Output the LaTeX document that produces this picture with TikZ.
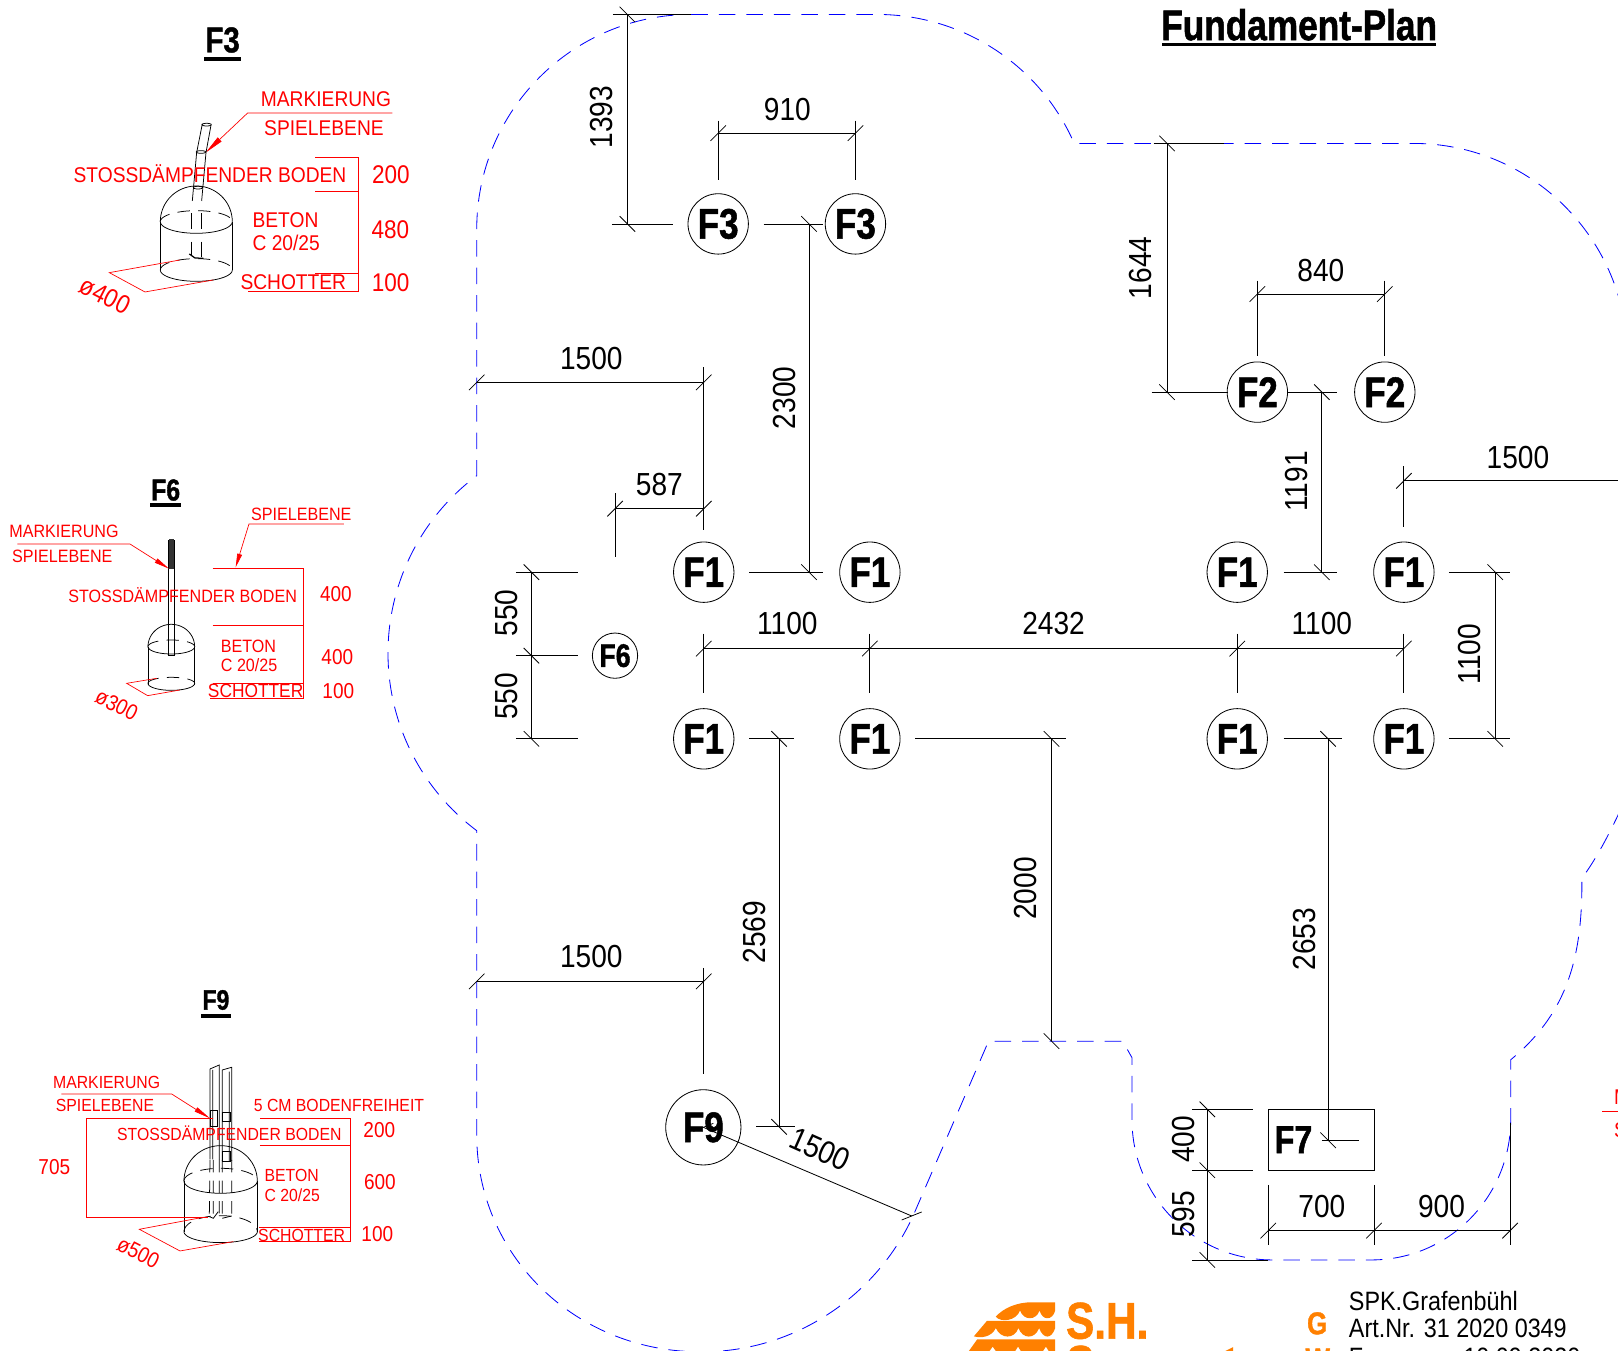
\documentclass[tikz,border=0pt]{standalone}
\usepackage{fontspec}
\usetikzlibrary{arrows.meta}
\setmainfont[FakeStretch=0.9]{Liberation Sans}
\newfontfamily\numf[FakeStretch=0.88]{Liberation Sans}
\newfontfamily\boldf[FakeStretch=0.82,FakeBold=1.2]{Liberation Sans}
\definecolor{shorange}{HTML}{FF8000}
\newcommand\rfs[1]{\fontsize{#1}{#1}\selectfont}
\tikzset{
  dimln/.style={black,line width=.6pt},
  ticks/.style={black,line width=.55pt},
  boundary/.style={blue,line width=.6pt,dash pattern=on 12pt off 8pt},
  fnode/.style={draw=black,circle,line width=.6pt,inner sep=0pt,minimum size=43.9pt,font={\boldf\bfseries\rfs{31}}},
  dimtxt/.style={inner sep=0pt,font={\numf\rfs{23.2}}},
  dimrot/.style={dimtxt,rotate=90},
  rl/.style={red,line width=.5pt},
  rtxt/.style={red,inner sep=0pt},
  rnum/.style={red,inner sep=0pt},
  obj/.style={black,line width=.55pt},
  objd/.style={black,line width=.55pt,dash pattern=on 9pt off 6pt},
  ttl/.style={inner sep=0pt,font={\boldf\bfseries\rfs{26}}}
}
\newcommand\tkv[1]{\draw[ticks] (#1) ++(-7.5,-7.5) -- ++(15,15);}
\newcommand\tkh[1]{\draw[ticks] (#1) ++(-7.5,7.5) -- ++(15,-15);}
\newcommand\earc[7][]{\draw[obj,#1] plot[domain=#6:#7,samples=36,smooth] ({#2+#4*cos(\x)},{#3+#5*sin(\x)});}
\begin{document}
\begin{tikzpicture}[x=.75pt,y=-.75pt]
\useasboundingbox (0,0) rectangle (1568,1309);
\clip (0,0) rectangle (1568,1309);
% title
\node[inner sep=0pt,font={\boldf\bfseries\rfs{31.2}}] (title) at (1259,24) {Fundament-Plan};
\fill (1126,42) rectangle (1392,45);
% boundary
\draw[boundary] (670,14) -- (850,14) .. controls (932.8,14) and (1008,63) .. (1041,139)
 -- (1370,139) .. controls (1484,139) and (1577,232) .. (1577,346) -- (1600,700) -- (1568,790)
 .. controls (1556,815) and (1545,835) .. (1533,851) -- (1533,857)
 .. controls (1533,935) and (1515,985) .. (1464,1027) -- (1464,1085)
 .. controls (1464,1160) and (1404,1221) .. (1329,1221) -- (1233,1221)
 .. controls (1158,1221) and (1097,1160) .. (1097,1085) -- (1097,1025) -- (1088,1009) -- (958,1009)
 -- (885,1178) .. controls (850,1255) and (770,1312) .. (675,1310)
 .. controls (555,1308) and (462,1215) .. (462,1100) -- (462,805)
 .. controls (407.8,764.3) and (376,700.8) .. (376,633)
 .. controls (376,565.2) and (407.8,501.7) .. (462,461) -- (462,222)
 .. controls (462,107) and (555,14) .. (670,14);
% foundation nodes
\node[fnode] (f3a) at (696,217) {F3};
\node[fnode] (f3b) at (829,217) {F3};
\node[fnode] (f2a) at (1218.5,380) {F2};
\node[fnode] (f2b) at (1342,380) {F2};
\node[fnode] (f1a) at (682,554.5) {F1};
\node[fnode] (f1b) at (843,554.5) {F1};
\node[fnode] (f1c) at (1199,554.5) {F1};
\node[fnode] (f1d) at (1360.5,554.5) {F1};
\node[fnode] (f1e) at (682,716) {F1};
\node[fnode] (f1f) at (843,716) {F1};
\node[fnode] (f1g) at (1199,716) {F1};
\node[fnode] (f1h) at (1360.5,716) {F1};
\node[fnode,minimum size=32.9pt,font={\boldf\bfseries\rfs{23.7}}] (f6) at (596,635.4) {F6};
\node[fnode,minimum size=54.7pt,font={\boldf\bfseries\rfs{31}}] (f9) at (681.6,1092.5) {F9};
\node[draw=black,line width=.6pt,minimum width=76.9pt,minimum height=44.2pt,inner sep=0pt] (f7box) at (1280.2,1104.5) {};
\node[inner sep=0pt,font={\boldf\bfseries\rfs{28.5}}] (f7) at (1253.5,1104.5) {F7};
% dimensions
\draw[dimln] (594,14) -- (670,14) (608,14) -- (608,217) (593,217) -- (652,217);
\tkv{608,14}\tkv{608,217}
\node[dimrot] (d1393) at (583,113.5) {1393};
\draw[dimln] (696,117) -- (696,174) (829,117) -- (829,174) (696,129) -- (829,129);
\tkh{696,129}\tkh{829,129}
\node[dimtxt] (d910) at (763,106) {910};
\draw[dimln] (1218.5,272) -- (1218.5,345) (1342,272) -- (1342,345) (1218.5,285) -- (1342,285);
\tkh{1218.5,285}\tkh{1342,285}
\node[dimtxt] (d840) at (1280,262) {840};
\draw[dimln] (740,217) -- (798,217) (784,217) -- (784,554.5) (726,554.5) -- (798,554.5);
\tkv{784,217}\tkv{784,554.5}
\node[dimrot] (d2300) at (760,385.5) {2300};
\draw[dimln] (462,370.5) -- (682,370.5) (682,356) -- (682,514);
\tkh{462,370.5}\tkh{682,370.5}
\node[dimtxt] (d1500a) at (573,347.5) {1500};
\draw[dimln] (596,478) -- (596,540) (596,493) -- (682,493);
\tkh{596,493}\tkh{682,493}
\node[dimtxt] (d587) at (639,470) {587};
\draw[dimln] (500,554.5) -- (560,554.5) (500,635.4) -- (560,635.4) (500,716) -- (560,716) (515,554.5) -- (515,716);
\tkv{515,554.5}\tkv{515,635.4}\tkv{515,716}
\node[dimrot] (d550a) at (491,594) {550};
\node[dimrot] (d550b) at (491,675) {550};
\draw[dimln] (682,614) -- (682,672) (843,614) -- (843,672) (1199,614) -- (1199,672) (1360.5,614) -- (1360.5,672) (682,628.5) -- (1360.5,628.5);
\tkh{682,628.5}\tkh{843,628.5}\tkh{1199,628.5}\tkh{1360.5,628.5}
\node[dimtxt] (d1100a) at (763,604) {1100};
\node[dimtxt] (d2432) at (1021,604) {2432};
\node[dimtxt] (d1100b) at (1281,604) {1100};
\draw[dimln] (1404,554.5) -- (1463,554.5) (1404,716) -- (1463,716) (1449,554.5) -- (1449,716);
\tkv{1449,554.5}\tkv{1449,716}
\node[dimrot] (d1100c) at (1424,634) {1100};
\draw[dimln] (1360.5,452) -- (1360.5,511) (1360.5,466) -- (1568,466);
\tkh{1360.5,466}
\node[dimtxt] (d1500b) at (1471,443.5) {1500};
\draw[dimln] (1248,380) -- (1296,380) (1281,380) -- (1281,554.5) (1244,554.5) -- (1296,554.5);
\tkv{1281,380}\tkv{1281,554.5}
\node[dimrot] (d1191) at (1256,466.5) {1191};
\draw[dimln] (1118,139) -- (1186,139) (1131,139) -- (1131,380) (1116,380) -- (1190,380);
\tkv{1131,139}\tkv{1131,380}
\node[dimrot] (d1644) at (1105,259.5) {1644};
\draw[dimln] (887,716) -- (1033,716) (1019,716) -- (1019,1009);
\tkv{1019,716}\tkv{1019,1009}
\node[dimrot] (d2000) at (994,861) {2000};
\draw[dimln] (726,716) -- (769,716) (755,716) -- (755,1092) (733,1092) -- (770,1092);
\tkv{755,716}\tkv{755,1092}
\node[dimrot] (d2569) at (731,903.5) {2569};
\draw[dimln] (1244,716) -- (1301,716) (1287,716) -- (1287,1105) (1281,1105) -- (1317,1105);
\tkv{1287,716}\tkv{1287,1105}
\node[dimrot] (d2653) at (1264,910) {2653};
\draw[dimln] (462,951) -- (682,951) (682,938) -- (682,1041);
\tkh{462,951}\tkh{682,951}
\node[dimtxt] (d1500c) at (573,926.5) {1500};
\draw[dimln] (f9.center) -- (883.5,1178.4);
\draw[ticks] (883.5,1178.4) ++(-9.7,3.9) -- ++(19.4,-7.8);
\draw[ticks] (f9.center) ++(-9.7,3.9) -- ++(19.4,-7.8);
\node[dimtxt,rotate=-24] (d1500d) at (794.7,1113.8) {1500};
\draw[dimln] (1155.6,1075) -- (1213.8,1075) (1155.6,1134) -- (1213.8,1134) (1155.6,1221) -- (1229,1221) (1170,1075) -- (1170,1221);
\tkv{1170,1075}\tkv{1170,1134}\tkv{1170,1221}
\node[dimrot] (d400) at (1147,1104) {400};
\node[dimrot] (d595) at (1147,1177) {595};
\draw[dimln] (1229,1148.3) -- (1229,1206.6) (1331.5,1148.3) -- (1331.5,1206.6) (1463.4,1088) -- (1463.4,1206.6) (1229,1192.6) -- (1463.4,1192.6);
\tkh{1229,1192.6}\tkh{1331.5,1192.6}\tkh{1463.4,1192.6}
\node[dimtxt] (d700) at (1281,1169) {700};
\node[dimtxt] (d900) at (1397,1169) {900};
% ---------- F3 detail (zoom coordinates)
\begin{scope}[scale=.323]
\node[ttl] (tf3) at (668,120) {F3};
\fill (612,171) rectangle (723,183);
\node[rtxt,font=\rfs{15.5}] (a1) at (978,298) {MARKIERUNG};
\node[rtxt,font=\rfs{15.5}] (a2) at (972,385) {SPIELEBENE};
\draw[rl,-{Stealth[length=14pt,width=4pt,inset=0pt]}] (1177,339) -- (743,339) -- (617,458);
% object
\draw[obj] (607,372) -- (590,458) -- (577,603) (633,376) -- (618,458) -- (605,603);
\earc{620}{374}{14}{4}{0}{360}
\earc{603}{456}{14}{4}{0}{360}
\earc{594}{563}{14}{4}{0}{360}
\earc{589}{665}{108}{107}{180}{360}
\earc{589}{665}{108}{35}{0}{180}
\earc[objd]{589}{665}{108}{33}{180}{360}
\draw[obj] (481,665) -- (481,810) (697,665) -- (697,810);
\earc{589}{810}{108}{34}{0}{180}
\earc[objd]{589}{810}{108}{34}{180}{360}
\draw[obj] (575,640) -- (575,686) (603,640) -- (603,686) (575,725) -- (575,765) (603,725) -- (603,770);
\draw[obj,line width=.9pt] (568,762) -- (585,774) -- (610,775);
\node[rtxt,font=\rfs{15.5}] (a3) at (630,521) {STOSSDÄMPFENDER BODEN};
\draw[rl] (946,471) -- (1076,471) -- (1076,875) -- (745,875) (946,575) -- (1076,575) (946,821) -- (1076,821);
\node[rtxt,font=\rfs{15.5},anchor=west] (a4) at (757,660) {BETON};
\node[rtxt,font=\rfs{15.5},anchor=west] (a5) at (757,728) {C 20/25};
\node[rtxt,font=\rfs{15.5}] (a6) at (880,848) {SCHOTTER};
\node[rnum,font={\numf\rfs{18.6}}] (a7) at (1173,525) {200};
\node[rnum,font={\numf\rfs{18.6}}] (a8) at (1171,688) {480};
\node[rnum,font={\numf\rfs{18.6}}] (a9) at (1172,849) {100};
\node[rnum,font={\numf\rfs{19}},rotate=-27] (a10) at (316,887) {ø400};
\draw[rl] (540,780) -- (328,818) -- (435,876) -- (640,840);
\end{scope}
% ---------- F6 detail
\begin{scope}[shift={(0,445.8)},scale=.323]
\node[ttl,font={\boldf\bfseries\rfs{22}}] (tf6) at (497,90) {F6};
\fill (451,128) rectangle (543,140);
\node[rtxt,font=\rfs{13}] (b1) at (192,214) {MARKIERUNG};
\node[rtxt,font=\rfs{13}] (b2) at (187,288) {SPIELEBENE};
\node[rtxt,font=\rfs{13}] (b3) at (904,164) {SPIELEBENE};
\draw[obj] (506,240) rectangle (523,585);
\fill[black!80] (506,237) rectangle (523,326);
\draw[rl,-{Stealth[length=11pt,width=3.5pt,inset=0pt]}] (52,252) -- (390,252) -- (507,326);
\draw[rl,-{Stealth[length=10pt,width=3.5pt,inset=0pt]}] (1032,192) -- (747,192) -- (707,322);
\earc{514}{560}{70}{67}{180}{360}
\earc{514}{560}{70}{22}{0}{180}
\earc[objd]{514}{560}{70}{20}{180}{360}
\draw[obj] (445,560) -- (445,675) (583,560) -- (583,675);
\earc{514}{670}{70}{21}{0}{180}
\earc[objd]{514}{670}{70}{18}{180}{360}
\node[rtxt,font=\rfs{13}] (b4) at (548,404) {STOSSDÄMPFENDER BODEN};
\draw[rl] (638,326) -- (911,326) -- (911,714) -- (630,714) (638,497) -- (911,497) (638,670) -- (911,670);
\node[rtxt,font=\rfs{13},anchor=west] (b5) at (662,558) {BETON};
\node[rtxt,font=\rfs{13},anchor=west] (b6) at (662,615) {C 20/25};
\node[rtxt,font=\rfs{14}] (b7) at (767,694) {SCHOTTER};
\node[rnum,font={\numf\rfs{15.7}}] (b8) at (1008,403) {400};
\node[rnum,font={\numf\rfs{15.7}}] (b9) at (1012,592) {400};
\node[rnum,font={\numf\rfs{15.7}}] (b10) at (1015,692) {100};
\node[rnum,font={\numf\rfs{16}},rotate=-27] (b11) at (350,735) {ø300};
\draw[rl] (470,655) -- (380,670) -- (443,707) -- (540,690);
\end{scope}
% ---------- F9 detail
\begin{scope}[shift={(0,940)},scale=.323]
\node[ttl,font={\boldf\bfseries\rfs{20.3}}] (tf9) at (648,90) {F9};
\fill (603,132) rectangle (693,144);
\node[rtxt,font=\rfs{12.75}] (c1) at (320,336) {MARKIERUNG};
\node[rtxt,font=\rfs{12.75}] (c2) at (315,405) {SPIELEBENE};
\node[rtxt,font=\rfs{12.75}] (c3) at (1017,405) {5 CM BODENFREIHEIT};
% posts
\draw[obj] (630,297) -- (658,285) -- (658,570) (630,297) -- (630,568) (638,300) -- (638,568);
\draw[obj] (667,300) -- (695,292) -- (695,573) (667,300) -- (667,573) (688,305) -- (688,573);
\draw[obj] (632,422) rectangle (653,470) (668,428) rectangle (692,455) (668,545) rectangle (692,573);
\draw[objd] (630,570) -- (628,740) (640,570) -- (640,745) (658,570) -- (658,730) (667,570) -- (667,745) (695,570) -- (695,735);
\draw[obj] (628,740) -- (640,745) -- (655,725) (667,745) -- (695,738);
\earc{662}{633}{110}{106}{180}{360}
\earc{662}{633}{110}{37}{0}{180}
\earc[objd]{662}{633}{110}{38}{180}{360}
\draw[obj] (552,633) -- (552,785) (772,633) -- (772,785);
\earc{662}{785}{110}{33}{0}{180}
\earc[objd]{662}{785}{110}{48}{180}{360}
\draw[rl,-{Stealth[length=12pt,width=3.5pt,inset=0pt]}] (184,372) -- (515,372) -- (630,445);
\node[rtxt,font=\rfs{12.75}] (c4) at (688,491) {STOSSDÄMPFENDER BODEN};
\draw[rl] (780,444) -- (1052,444) -- (1052,814) -- (778,814) (780,527) -- (1052,527) (778,772) -- (1052,772);
\draw[rl] (640,444) -- (258,444) -- (258,742) -- (625,742);
\node[rnum,font={\numf\rfs{15.7}}] (c5) at (163,590) {705};
\node[rtxt,font=\rfs{12.75},anchor=west] (c6) at (793,618) {BETON};
\node[rtxt,font=\rfs{12.75},anchor=west] (c7) at (793,675) {C 20/25};
\node[rtxt,font=\rfs{12.75}] (c8) at (905,796) {SCHOTTER};
\node[rnum,font={\numf\rfs{15.7}}] (c9) at (1138,480) {200};
\node[rnum,font={\numf\rfs{15.7}}] (c10) at (1140,636) {600};
\node[rnum,font={\numf\rfs{15.7}}] (c11) at (1132,792) {100};
\node[rnum,font={\numf\rfs{16}},rotate=-27] (c12) at (415,848) {ø500};
\draw[rl] (610,742) -- (418,778) -- (540,843) -- (700,815);
\end{scope}
% off-edge red leader
\draw[rl] (1552.8,1077.3) -- (1568,1077.3);
\node[rtxt,font=\rfs{15.5},anchor=west] (e1) at (1564,1063.5) {M};
\node[rtxt,font=\rfs{15.5},anchor=west] (e2) at (1564,1095.5) {S};
% logo
\fill[shorange] (965,1276) .. controls (972,1268) and (985,1262) .. (1000,1262) -- (1022.6,1262) -- (1022.6,1270)
 .. controls (1020,1280) and (1010,1280) .. (1007.5,1270) .. controls (1004,1280) and (992,1280) .. (988.5,1270)
 .. controls (985,1280) and (970,1282) .. (965,1276) -- cycle;
\fill[shorange] (943.8,1295) -- (956.5,1280) -- (1022.6,1280) -- (1022.6,1287)
 .. controls (1019,1298) and (1011,1298) .. (1007,1287) .. controls (1003,1298) and (991,1298) .. (987,1287)
 .. controls (983,1298) and (970,1298) .. (965,1287) .. controls (961,1296) and (950,1297) .. (943.8,1295) -- cycle;
\fill[shorange] (937,1312) -- (947,1298) -- (1022.6,1298) -- (1022.6,1312) -- (1018,1312) -- (1013.6,1305) -- (1009,1312)
 -- (991,1312) -- (986.6,1305) -- (982,1312) -- (967,1312) -- (962,1305) -- (957,1312) -- cycle;
\node[shorange,inner sep=0pt,font={\boldf\bfseries\rfs{37.5}}] (sh) at (1073,1280) {S.H.};
\node[shorange,inner sep=0pt,font={\boldf\bfseries\rfs{37.5}},anchor=base] (sh2) at (1047,1339) {S};
\fill[shorange] (1186,1310) -- (1195,1305.5) -- (1195,1310) -- cycle;
\node[shorange,inner sep=0pt,font={\boldf\bfseries\rfs{23}}] (g) at (1276.5,1282.5) {G};
\node[shorange,inner sep=0pt,font={\boldf\bfseries\rfs{23}},anchor=base] (w) at (1277,1328) {W};
% info
\node[inner sep=0pt,font={\numf\rfs{19.3}},anchor=base west] (i1) at (1307,1270) {SPK.Grafenbühl};
\node[inner sep=0pt,font={\numf\rfs{19.3}},anchor=base west] (i2) at (1307,1296) {Art.Nr. 31 2020 0349};
\node[inner sep=0pt,font={\numf\rfs{19.3}},anchor=base west] (i3) at (1307,1324.4) {F};
\node[inner sep=0pt,font={\numf\rfs{19.3}},anchor=base west] (i4) at (1418,1324.4) {10.09.2020};
\end{tikzpicture}
\end{document}
